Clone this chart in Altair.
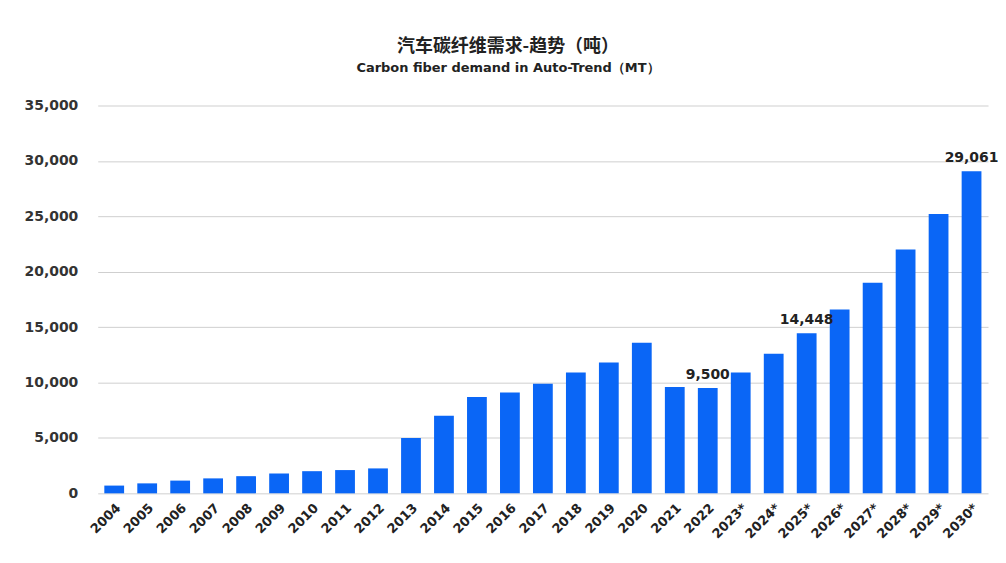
import altair as alt
import pandas as pd

years = ["2004", "2005", "2006", "2007", "2008", "2009", "2010", "2011", "2012",
         "2013", "2014", "2015", "2016", "2017", "2018", "2019", "2020", "2021",
         "2022", "2023*", "2024*", "2025*", "2026*", "2027*", "2028*", "2029*", "2030*"]
demand = [700, 900, 1150, 1350, 1550, 1800, 2000, 2100, 2250,
          5000, 7000, 8700, 9100, 9900, 10900, 11800, 13600, 9600,
          9500, 10900, 12600, 14448, 16600, 19000, 22000, 25200, 29061]
labelled = {"2022": "9,500", "2025*": "14,448", "2030*": "29,061"}
y_ticks = [0, 5000, 10000, 15000, 20000, 25000, 30000, 35000]

df = pd.DataFrame({"year": years, "demand": demand})
df["label"] = [labelled.get(y, "") for y in years]

x_axis = alt.Axis(labelAngle=-45, labelFont="DejaVu Sans", labelFontSize=13,
                  labelFontWeight="bold", labelColor="#222", ticks=False,
                  domain=False, labelPadding=8, grid=False)
x_enc = alt.X("year:N", sort=years, title=None,
              scale=alt.Scale(paddingInner=0.4, paddingOuter=0.2), axis=x_axis)
y_enc = alt.Y("demand:Q", title=None,
              scale=alt.Scale(domain=[0, 35000], nice=False),
              axis=alt.Axis(values=y_ticks, format=",.0f", labelFont="DejaVu Sans",
                            labelFontSize=14, labelFontWeight="bold", labelColor="#333",
                            ticks=False, domain=False, labelPadding=20,
                            gridColor="#cfcfcf", gridWidth=1))

bars = alt.Chart(df).mark_bar(color="#0A66F6").encode(x=x_enc, y=y_enc)

texts = alt.Chart(df).transform_filter(alt.datum.label != "").mark_text(
    font="DejaVu Sans", fontSize=14, fontWeight="bold", color="#222",
    baseline="bottom", dy=-6
).encode(x=alt.X("year:N", sort=years), y=alt.Y("demand:Q"), text="label:N")

chart = alt.layer(bars, texts).properties(
    width=893, height=389,
    background="white",
    autosize=alt.AutoSizeParams(type="none"),
    padding={"left": 90, "top": 97, "right": 10, "bottom": 50},
    title=alt.TitleParams(
        text="汽车碳纤维需求-趋势（吨）",
        subtitle="Carbon fiber demand in Auto-Trend（MT）",
        font="Noto Sans CJK SC", fontSize=18, fontWeight="bold", color="#222",
        subtitleFont="DejaVu Sans", subtitleFontSize=13, subtitleFontWeight="bold",
        subtitleColor="#222", subtitlePadding=6,
        anchor="middle", dx=-35, offset=24),
).configure_view(
    strokeWidth=0
).configure_axis(
    domain=False, ticks=False
).configure_axisX(grid=False)

chart.save("out.html", embed_options={"renderer": "svg", "actions": False})
